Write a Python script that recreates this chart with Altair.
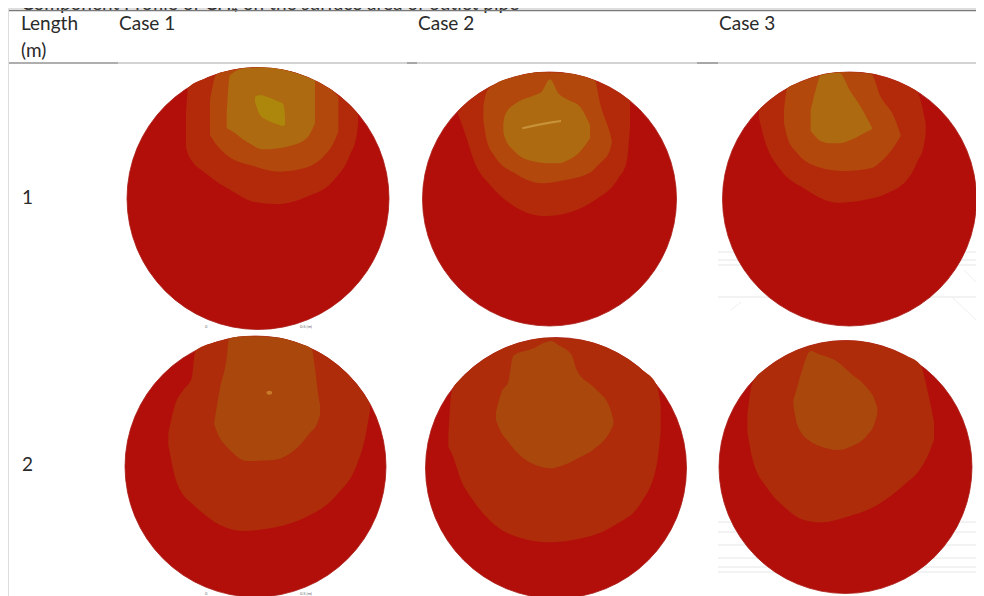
import math
import altair as alt
import pandas as pd

# Page pixel frame of the reference
X_DOMAIN = [8, 976]
Y_DOMAIN = [596, 8]

BASE = "#b20f0a"
C1 = "#b32a0b"
C2 = "#b2480c"
C1B = "#ae2c0a"
C2B = "#aa470d"
C3 = "#ae6a10"
CORE = "#ad860c"
STREAK = "#c8923a"
DOT = "#c87a2a"

panel_x = [258, 549.5, 849.5, 255.5, 556, 845.5]
panel_y = [198.5, 199, 199, 466.5, 468, 467]
panel_r = [131, 127, 127, 130.5, 130.5, 126.5]
crop_x = [120, 415, 704, 120, 415, 704]
crop_y = [60, 60, 60, 325, 325, 325]

a1 = [(198,170,262),(205,60,285),(260,0,342),(340,0,395),(400,0,425),(470,0,432),(560,0,410),(640,0,362),(690,0,285),(710,0,225),(714,160,190)]
a2 = [(270,120,225),(290,0,255),(320,0,285),(400,0,318),(480,0,335),(550,0,325),(610,0,290),(640,0,250),(655,110,215)]
a3 = [(320,170,205),(330,45,210),(380,0,245),(430,0,268),(500,0,260),(560,0,235),(585,60,190)]
a4 = [(405,110,125),(420,105,165),(440,110,180),(470,122,192),(490,132,198),(495,165,195)]

b1 = [(128,155,160),(150,0,220),(180,0,310),(230,0,380),(300,0,440),(390,0,468),(470,0,455),(540,0,420),(610,0,355),(635,0,305),(645,0,200)]
b2 = [(205,140,180),(215,95,240),(240,0,290),(300,0,340),(380,0,370),(450,0,360),(530,0,335),(540,62,325),(555,130,310),(585,220,270),(590,240,250)]
b3 = [(265,190,215),(270,165,235),(295,135,270),(310,125,285),(360,105,305),(380,95,308),(405,58,310),(430,100,310),(460,120,300),(495,140,275),(525,195,235)]
b4 = [(322,202,208),(380,189,196),(438,180,186)]

c1 = [(165,150,175),(185,0,250),(230,0,330),(300,0,385),(400,0,428),(480,0,420),(550,0,400),(620,0,345),(640,0,305),(660,165,255),(665,190,220)]
c2 = [(240,150,190),(250,0,232),(280,0,280),(340,0,320),(420,0,333),(500,40,325),(530,110,305),(570,170,260),(590,225,228)]
c3 = [(320,150,212),(335,90,230),(350,45,243),(380,0,250),(405,38,250),(440,95,240),(470,140,225),(505,205,207)]

d1 = [(145,325,360),(165,240,455),(190,195,510),(215,160,535),(226,0,545),(300,0,600),(370,0,618),(450,0,610),(550,0,580),(650,0,510),(710,0,420),(735,0,340),(750,0,255)]
d2 = [(283,290,300),(300,190,340),(320,100,365),(327,0,372),(380,0,408),(460,0,405),(540,0,360),(575,72,318),(585,130,308),(597,225,280),(600,240,270)]
d3 = [(440,200,206),(448,197,209),(456,200,206)]

e1 = [(100,340,365),(110,200,385),(140,0,470),(170,0,520),(240,0,600),(320,0,640),(400,0,652),(500,0,640),(600,0,600),(680,0,530),(725,0,420),(737,240,320)]
e2 = [(243,260,285),(260,200,325),(280,170,350),(295,92,370),(350,72,415),(410,48,430),(430,60,425),(470,90,410),(485,135,402),(540,190,370),(585,250,320),(595,285,300)]

f1 = [(130,270,320),(145,175,400),(190,0,490),(240,0,545),(300,0,585),(350,0,592),(430,0,575),(520,0,540),(600,0,480),(650,0,430),(670,195,395),(690,290,345)]
f2 = [(268,225,240),(280,185,300),(290,150,320),(320,78,350),(345,88,362),(400,110,375),(440,145,365),(490,190,330),(510,220,300),(520,250,265)]

contours = [
    (0, a1, C1), (0, a2, C2), (0, a3, C3), (0, a4, CORE),
    (1, b1, C1), (1, b2, C2), (1, b3, C3), (1, b4, STREAK),
    (2, c1, C1), (2, c2, C2), (2, c3, C3),
    (3, d1, C1B), (3, d2, C2B), (3, d3, DOT),
    (4, e1, C1B), (4, e2, C2B),
    (5, f1, C1B), (5, f2, C2B),
]

title_text = ["Component Profile of CH\u2084 on the surface area of outlet pipe"]
title_x, title_y = [21], [10]
head_text = ["Length", "(m)", "Case 1", "Case 2", "Case 3", "1", "2"]
head_x = [21, 21, 119, 418, 719, 22, 22]
head_y = [30, 57, 30, 30, 30, 204, 471]

tiny_text = ["0", "0.5 (m)", "0", "0.5 (m)"]
tiny_x = [205, 300, 205, 300]
tiny_y = [328, 328, 595, 595]

rule_x = [9, 9, 9, 407, 697]
rule_x2 = [984, 984, 118, 417, 718]
rule_y = [10.5, 63, 63, 63, 63]
rule_color = ["#7a7a7a", "#a8a8a8", "#8a8a8a", "#8a8a8a", "#8a8a8a"]
rule_width = [1.6, 1.2, 1.2, 1.2, 1.2]

faint_y = [252, 260, 265, 297, 522, 532, 545, 558, 567, 572]
faint_diag_x = [731, 964, 952]
faint_diag_x2 = [741, 976, 976]
faint_diag_y = [310, 270, 297]
faint_diag_y2 = [302, 282, 320]

xs = alt.Scale(domain=X_DOMAIN, range=[0, 968], clamp=False)
ys = alt.Scale(domain=Y_DOMAIN, range=[588, 0], clamp=False)
X = lambda f="x": alt.X(f + ":Q", scale=xs, axis=None)
Y = lambda f="y": alt.Y(f + ":Q", scale=ys, axis=None)

layers = []

# faint background lines behind the right-hand discs
layers.append(
    alt.Chart(pd.DataFrame({"y": faint_y, "x": [718] * len(faint_y), "x2": [976] * len(faint_y)}))
    .mark_rule(color="#e6e6e6", strokeWidth=1)
    .encode(x=X(), x2="x2:Q", y=Y())
)
layers.append(
    alt.Chart(pd.DataFrame({"x": faint_diag_x, "x2": faint_diag_x2, "y": faint_diag_y, "y2": faint_diag_y2}))
    .mark_rule(color="#efefef", strokeWidth=1)
    .encode(x=X(), x2="x2:Q", y=Y(), y2="y2:Q")
)

# title sits behind the top rule, cut by the top edge as in the reference
layers.append(
    alt.Chart(pd.DataFrame({"t": title_text, "x": title_x, "y": title_y}))
    .mark_text(font="Lato", fontSize=19, align="left", baseline="alphabetic", color="#2a2a2a")
    .encode(x=X(), y=Y(), text="t:N")
)

# rules of the table
for i in range(len(rule_y)):
    layers.append(
        alt.Chart(pd.DataFrame({"x": [rule_x[i]], "x2": [rule_x2[i]], "y": [rule_y[i]]}))
        .mark_rule(color=rule_color[i], strokeWidth=rule_width[i])
        .encode(x=X(), x2="x2:Q", y=Y())
    )

# discs (a Vega circle of size s has diameter sqrt(s))
disc = pd.DataFrame({"x": panel_x, "y": panel_y,
                     "area": [4 * r * r for r in panel_r]})
layers.append(
    alt.Chart(disc)
    .mark_circle(color=BASE, opacity=1, stroke="#a81a14", strokeWidth=0.8)
    .encode(x=X(), y=Y(), size=alt.Size("area:Q", scale=None, legend=None))
)

# contour bands
for panel, outline, colour in contours:
    cx, cy, r = panel_x[panel], panel_y[panel], panel_r[panel]
    ox, oy = crop_x[panel], crop_y[panel]
    rows = []
    for zx, top, bot in outline:
        px = ox + zx / 3
        rim = cy - math.sqrt(max(r * r - (px - cx) ** 2, 0))
        rows.append({"x": px, "y": max(oy + top / 3, rim), "y2": oy + bot / 3})
    layers.append(
        alt.Chart(pd.DataFrame(rows))
        .mark_area(color=colour, opacity=1, line=False, interpolate="monotone")
        .encode(x=X(), y=Y(), y2="y2:Q")
    )

layers.append(
    alt.Chart(pd.DataFrame({"t": head_text, "x": head_x, "y": head_y}))
    .mark_text(font="Lato", fontSize=19, align="left", baseline="alphabetic", color="#2a2a2a")
    .encode(x=X(), y=Y(), text="t:N")
)
layers.append(
    alt.Chart(pd.DataFrame({"t": tiny_text, "x": tiny_x, "y": tiny_y}))
    .mark_text(font="Lato", fontSize=4, align="left", baseline="alphabetic", color="#666666")
    .encode(x=X(), y=Y(), text="t:N")
)

chart = (
    alt.layer(*layers)
    .properties(width=968, height=588, padding=0, autosize=alt.AutoSizeParams(type="none"))
    .configure_view(stroke=None)
    .configure(background="white")
)

chart.save("out.html", embed_options={"renderer": "svg", "actions": False})
